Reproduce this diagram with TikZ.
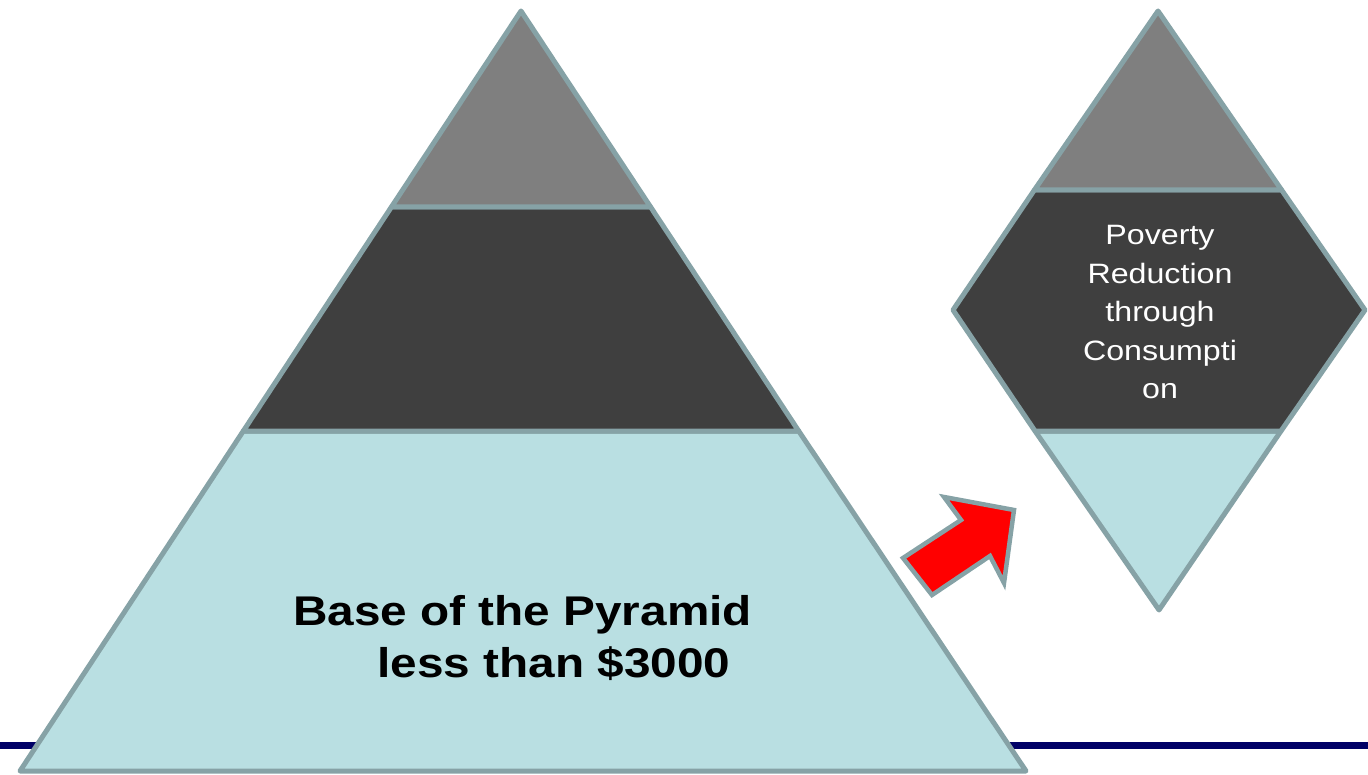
\documentclass[tikz,border=0pt]{standalone}
\usepackage{fontspec}
\newfontfamily\arialw[FakeStretch=1.15]{Liberation Sans}
\definecolor{edgec}{RGB}{134,162,166}
\definecolor{topg}{RGB}{127,127,127}
\definecolor{darkg}{RGB}{63,63,63}
\definecolor{lightb}{RGB}{185,223,226}
\definecolor{navyc}{RGB}{0,0,102}
\definecolor{redc}{RGB}{255,0,0}
\tikzset{
  layer/.style={draw=edgec, line width=5pt, line join=round},
  bigtext/.style={anchor=base, inner sep=0pt, font=\arialw\bfseries\fontsize{41.5}{52}\selectfont, text=black},
  dtext/.style={anchor=base, inner sep=0pt, font=\arialw\fontsize{28}{38.5}\selectfont, text=white}
}
\begin{document}
\begin{tikzpicture}[x=1pt,y=-1pt]
\useasboundingbox (0,0) rectangle (1368,775);
% navy rule
\coordinate (ruleL) at (0,745.5);
\coordinate (ruleR) at (1368,745.5);
\draw[navyc, line width=7pt] (ruleL) -- (ruleR);
% pyramid
\draw[layer, fill=lightb] (243.3,431) -- (798.7,431) -- (1026,771) -- (20,771) -- cycle;
\draw[layer, fill=darkg] (391.4,207) -- (650.6,207) -- (798.7,431) -- (243.3,431) -- cycle;
\draw[layer, fill=topg] (521,11) -- (650.6,207) -- (391.4,207) -- cycle;
% diamond
\draw[layer, fill=lightb] (1035,431) -- (1281,431) -- (1159,610) -- cycle;
\draw[layer, fill=darkg] (1034.4,190) -- (1281.6,190) -- (1365,310) -- (1281,431) -- (1035,431) -- (953,310) -- cycle;
\draw[layer, fill=topg] (1158,11) -- (1281.6,190) -- (1034.4,190) -- cycle;
% arrow
\draw[draw=edgec, line width=4.5pt, fill=redc, line join=miter]
  (903,558) -- (932,595) -- (990,556) -- (1004,583) -- (1014,510) -- (944,497) -- (961,520) -- cycle;
% texts
\node[bigtext] (base1) at (522.5,625) {Base of the Pyramid};
\node[bigtext] (base2) at (554,677) {less than \$3000};
\node[dtext] (d1) at (1160,245) {Poverty};
\node[dtext] (d2) at (1160,283.5) {Reduction};
\node[dtext] (d3) at (1160,322) {through};
\node[dtext] (d4) at (1160,360.5) {Consumpti};
\node[dtext] (d5) at (1160,399) {on};
\end{tikzpicture}
\end{document}
